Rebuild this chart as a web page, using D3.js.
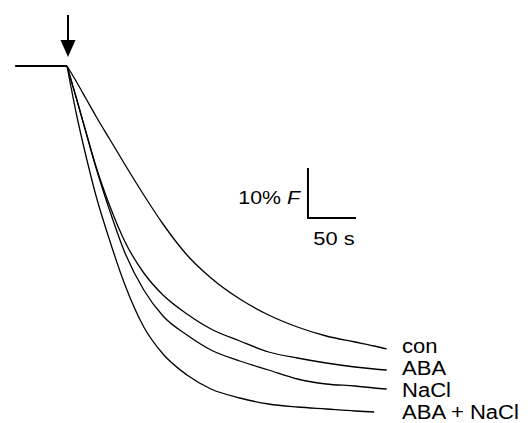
<!DOCTYPE html>
<html>
<head>
<meta charset="utf-8">
<script src="https://cdn.jsdelivr.net/npm/d3@7"></script>
<style>
  body { margin: 0; background: #fff; }
  svg { display: block; }
  text { font-family: "Liberation Sans", Arial, Helvetica, sans-serif; fill: #000; }
</style>
</head>
<body>
<script>
// time after the arrow (s) and fluorescence (% of start)
const times = [0, 10, 20, 30, 45, 60, 80, 100, 125, 150, 180, 210, 240, 270, 300, 320, 333]
const con = [100, 96.8, 93.4, 90, 85.2, 80.4, 74.2, 68.4, 62.2, 57.6, 53.4, 50.2, 47.8, 46, 44.8, 44, 43.4]
const aba = [100, 93.4, 86.6, 80, 71.8, 65, 58.6, 54.2, 50.4, 47.4, 45, 42.8, 41.6, 40.6, 39.8, 39.4, 39.2]
const nacl = [100, 93.4, 86.6, 79.8, 70.8, 62.8, 55.2, 50, 46.2, 43.2, 41, 39.2, 37.4, 36.4, 36, 35.6, 35.4]
const abaNacl = [100, 90.2, 81.8, 74.2, 64.8, 56.4, 47.8, 42.4, 38.2, 35.4, 33.6, 32.4, 31.8, 31.4, 31, 30.8, null]
const seriesNames = ['con', 'ABA', 'NaCl', 'ABA + NaCl']
const seriesValues = [con, aba, nacl, abaNacl]

// pre-stimulus baseline
const baseTimes = [-54, 0]
const baseValues = [100, 100]

// scale bar: 50 s by 10 % F
const barTime = 251, barF = 69.6, barDt = 50, barDf = 10

const width = 528, height = 423

// 50 s = 48 px, 10 % = 50 px
const x = d3.scaleLinear().domain([0, 50]).range([67, 115])
const y = d3.scaleLinear().domain([100, 90]).range([66, 116])

const svg = d3.select('body').append('svg')
  .attr('width', width)
  .attr('height', height)

const line = d3.line()
  .defined((d) => d.f != null)
  .x((d) => x(d.t))
  .y((d) => y(d.f))
  .curve(d3.curveMonotoneX)

// baseline before the arrow
svg.append('path')
  .datum(baseTimes.map((t, i) => ({ t: t, f: baseValues[i] })))
  .attr('d', line)
  .attr('fill', 'none')
  .attr('stroke', '#000')
  .attr('stroke-width', 2)

// traces
svg.selectAll('.trace')
  .data(seriesValues)
  .enter()
  .append('path')
  .classed('trace', true)
  .attr('d', (vals) => line(times.map((t, i) => ({ t: t, f: vals[i] }))))
  .attr('fill', 'none')
  .attr('stroke', '#000')
  .attr('stroke-width', 1.3)

// trace labels
svg.selectAll('.label')
  .data(seriesNames)
  .enter()
  .append('text')
  .classed('label', true)
  .attr('transform', (d, i) => `translate(402,${353 + i * 22}) scale(1.13,1)`)
  .style('font-size', '19.5px')
  .text((d) => d)

// arrow at the stimulus
const ax = x(0) + 1, ay = y(100)
svg.append('line')
  .attr('x1', ax).attr('x2', ax)
  .attr('y1', ay - 51).attr('y2', ay - 20)
  .attr('stroke', '#000')
  .attr('stroke-width', 2)
svg.append('path')
  .attr('d', `M${ax - 7.5},${ay - 26} L${ax + 7.5},${ay - 26} L${ax},${ay - 9} Z`)
  .attr('fill', '#000')

// scale bar
svg.append('path')
  .attr('d', `M${x(barTime)},${y(barF + barDf)} L${x(barTime)},${y(barF)} L${x(barTime + barDt)},${y(barF)}`)
  .attr('fill', 'none')
  .attr('stroke', '#000')
  .attr('stroke-width', 2)

const fLabel = svg.append('text')
  .attr('transform', `translate(${x(barTime) - 8},${y(barF + barDf / 2) + 11}) scale(1.22,1)`)
  .attr('text-anchor', 'end')
  .style('font-size', '17.5px')
fLabel.append('tspan').text('10% ')
fLabel.append('tspan').style('font-style', 'italic').text('F')

svg.append('text')
  .attr('transform', `translate(${x(barTime + barDt / 2) + 2},${y(barF) + 27}) scale(1.25,1)`)
  .attr('text-anchor', 'middle')
  .style('font-size', '17.5px')
  .text('50 s')
</script>
</body>
</html>
